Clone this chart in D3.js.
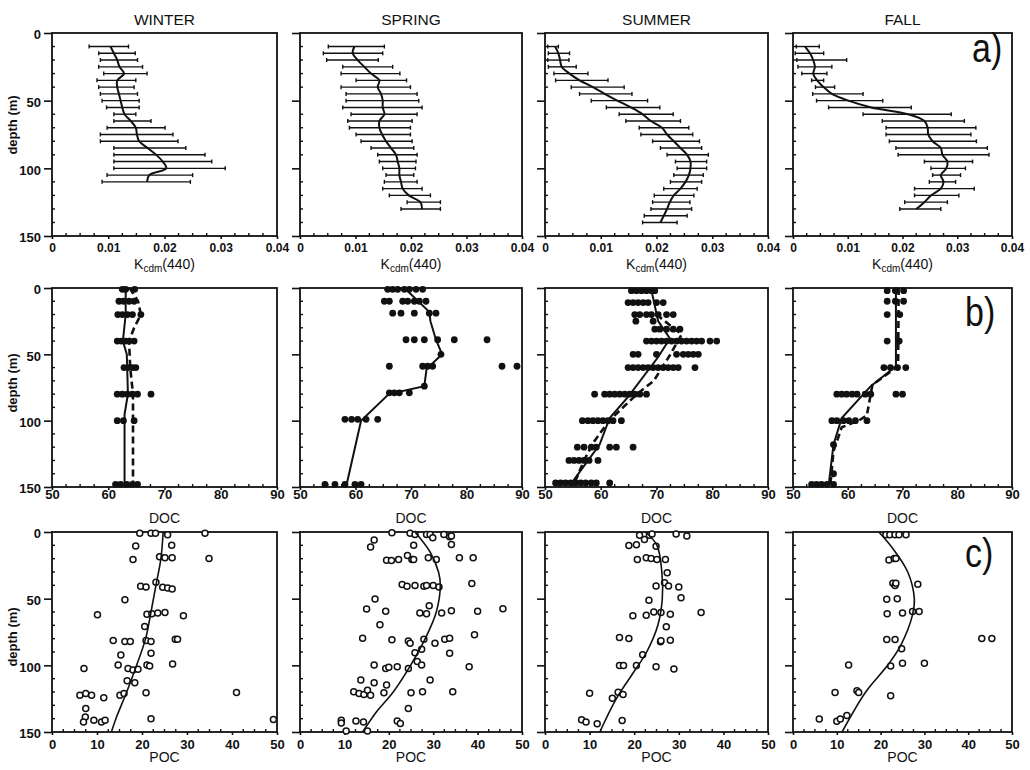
<!DOCTYPE html>
<html><head><meta charset="utf-8">
<script src="https://cdn.jsdelivr.net/npm/d3@7"></script>
<style>
body{margin:0;background:#fff}
svg{display:block}
text{font-family:"Liberation Sans",Arial,Helvetica,sans-serif;fill:#111}
</style>
</head><body>
<svg id="chart" width="1030" height="770"></svg>
<script>
// ---------- labels / ticks ----------
const seasons = ["WINTER","SPRING","SUMMER","FALL"];
const panelLetters = ["a)","b)","c)"];
const depthTicks = [0,50,100,150];
const kTicks = [0,0.01,0.02,0.03,0.04];
const kTickLabels = ["0","0.01","0.02","0.03","0.04"];
const docTicks = [50,60,70,80,90];
const docTickLabels = ["50","60","70","80","90"];
const pocTicks = [0,10,20,30,40,50];
const pocTickLabels = ["0","10","20","30","40","50"];

// ---------- a) Kcdm(440) mean profiles with error bars ----------
const winterKDepth = [10,15,20,25,30,35,40,45,50,55,60,65,70,75,80,85,90,95,100,105,110];
const winterKMean = [.0104,.0110,.0116,.0120,.0128,.0116,.0116,.0119,.0122,.0125,.0129,.0140,.0149,.0151,.0155,.0170,.0185,.0197,.0203,.0173,.0169];
const winterKLo   = [.0066,.0083,.0086,.0083,.0092,.0080,.0083,.0086,.0089,.0097,.0110,.0110,.0098,.0086,.0086,.0110,.0110,.0110,.0110,.0098,.0089];
const winterKHi   = [.0136,.0148,.0152,.0161,.0169,.0149,.0146,.0152,.0155,.0155,.0149,.0176,.0201,.0215,.0224,.0238,.0272,.0284,.0308,.0250,.0246];

const springKDepth = [10,15,20,25,30,35,40,45,50,55,60,65,70,75,80,85,90,95,100,105,110,115,120,125,130];
const springKMean = [.0098,.0095,.0104,.0116,.0128,.0143,.0140,.0146,.0149,.0149,.0152,.0143,.0143,.0148,.0155,.0164,.0173,.0176,.0179,.0179,.0182,.0185,.0196,.0217,.0220];
const springKLo   = [.0051,.0042,.0048,.0077,.0074,.0101,.0074,.0083,.0083,.0077,.0092,.0086,.0089,.0101,.0110,.0128,.0140,.0143,.0149,.0155,.0152,.0149,.0161,.0193,.0182];
const springKHi   = [.0152,.0149,.0141,.0167,.0180,.0192,.0199,.0211,.0214,.0220,.0211,.0202,.0199,.0199,.0202,.0205,.0211,.0209,.0208,.0205,.0211,.0220,.0235,.0253,.0253];

const summerKDepth = [10,15,20,25,30,35,40,45,50,55,60,65,70,75,80,85,90,95,100,105,110,115,120,125,130,135,140];
const summerKMean = [.0018,.0024,.0027,.0030,.0044,.0062,.0086,.0107,.0130,.0154,.0175,.0190,.0210,.0219,.0231,.0243,.0255,.0261,.0261,.0258,.0252,.0243,.0231,.0224,.0219,.0213,.0207];
const summerKLo   = [.0005,.0006,.0005,.0006,.0016,.0019,.0047,.0062,.0083,.0110,.0133,.0145,.0169,.0172,.0193,.0207,.0219,.0234,.0237,.0231,.0225,.0213,.0196,.0193,.0190,.0178,.0175];
const summerKHi   = [.0024,.0044,.0043,.0056,.0077,.0113,.0142,.0156,.0184,.0206,.0230,.0243,.0258,.0265,.0277,.0281,.0293,.0290,.0290,.0284,.0281,.0273,.0267,.0260,.0263,.0255,.0237];

const fallKDepth = [10,15,20,25,30,35,40,45,50,55,60,65,70,75,80,85,90,95,100,105,110,115,120,125,130];
const fallKMean = [.0022,.0031,.0037,.0040,.0037,.0044,.0056,.0071,.0101,.0143,.0210,.0240,.0246,.0247,.0255,.0270,.0273,.0282,.0280,.0270,.0275,.0270,.0252,.0240,.0225];
const fallKLo   = [.0006,.0004,.0007,.0009,.0016,.0034,.0041,.0036,.0043,.0065,.0128,.0163,.0170,.0170,.0176,.0188,.0192,.0240,.0252,.0255,.0249,.0222,.0222,.0204,.0195];
const fallKHi   = [.0048,.0056,.0098,.0071,.0062,.0056,.0076,.0128,.0164,.0216,.0289,.0313,.0334,.0325,.0335,.0355,.0358,.0328,.0315,.0306,.0297,.0331,.0303,.0282,.0270];

// ---------- b) DOC samples (depth rows with values) and profiles ----------
const winterDocDepths = [1,10,20,40,60,80,100,148];
const winterDocValues = [
  [62.5,63.1,64.7],[61.9,62.7,63.7,64.6],[61.7,62.5,63.4,64.3,65.8],[61.6,62.3,63.1,63.7,64.6],
  [62.8,63.5,64.3,64.9],[61.6,62.5,63.4,64.3,65.2,67.6],[61.6,62.7,64.6],[61.3,62.2,63.3,64.3,65.2]];
const winterDocSolidDepth = [0,20,40,50,80,95,150];
const winterDocSolid      = [63.1,63.1,62.6,63.3,63.5,62.9,62.9];
const winterDocDashDepth  = [0,10,20,30,40,60,80,100,150];
const winterDocDash       = [63.8,65.3,65.8,64.6,63.7,63.9,64.4,64.4,64.4];

const springDocDepths = [1,10,19,39,50,59,74,79,99,148];
const springDocValues = [
  [65.8,66.7,67.6,68.8,69.7,70.9,72.1],[65.2,66.1,68.5,69.4,70.6,71.5,72.7],[66.7,68.2,70.6,73.3,74.5],
  [69.1,70.6,72.4,74.8,77.8,83.7],[75.4],[66.1,72.1,73.0,73.9,86.4,89.1],[72.4],
  [66.1,67.0,67.9,69.7],[58.1,59.3,60.4,61.9,64.0],[54.5,56.3,58.1,59.9,61.0]];
const springDocSolidDepth = [0,18,25,39,50,61,74,80,100,150];
const springDocSolid      = [68.8,73.3,73.5,74.5,75.6,72.8,72.4,66.0,61.0,58.3];

const summerDocDepths = [2,11,20,25,31,40,50,60,80,100,120,130,147];
const summerDocValues = [
  [65.5,66.4,67.3,68.2,69.1,69.7],[64.9,65.8,66.7,67.6,68.5,70.0,71.2],[66.1,67.0,68.2,69.1,70.3,71.8,73.0],
  [66.3,69.4],[69.7,70.6,71.8,73.0,74.2],
  [68.2,69.1,70.0,70.9,71.8,72.7,73.6,74.5,75.4,76.3,77.2,78.1,79.6,80.8],
  [65.8,66.7,70.0,73.6,74.8,75.7,76.6,77.5],
  [64.9,65.8,66.7,67.6,68.5,69.4,70.3,71.2,72.1,73.0,73.9,76.9],
  [58.9,60.7,61.6,62.5,63.4,64.3,65.2,66.1,67.0,68.2],
  [56.7,57.7,58.6,59.5,60.4,61.3,62.2,63.7],
  [55.8,57.0,58.3,59.2,61.6,62.8,65.8],
  [54.3,55.2,56.1,57.0,57.9,59.5],
  [51.9,52.8,53.7,54.6,55.5,56.4,57.3,58.3,59.2,61.6]];
const summerDocSolidDepth = [2,25,38,52,82,98,118,148];
const summerDocSolid      = [69.1,70.3,72.4,70.3,64.9,61.6,59.8,54.6];
const summerDocDashDepth  = [20,35,50,60,70,80,100,117,130,148];
const summerDocDash       = [70.0,74.5,72.5,71.0,69.5,66.5,61.5,58.6,57.0,55.2];

const fallDocDepths = [2,10,20,40,60,80,100,118,140,148];
const fallDocValues = [
  [67.2,68.7,70.2],[67.2,68.7,70.2],[67.2,69.5],[67.2,69.4],[66.6,67.8,69.1,70.6],
  [58.0,58.9,59.8,60.8,61.7,63.2,64.2,68.8,70.0],[57.1,58.0,59.2,60.2,61.4,63.5],[57.4],[57.4],
  [53.4,54.3,55.2,56.2,57.4]];
const fallDocSolidDepth = [0,59,74,98,118,149];
const fallDocSolid      = [68.8,68.8,64.2,58.9,57.4,56.5];
const fallDocDashDepth  = [0,59,73,96,100,105,123,149];
const fallDocDash       = [69.3,69.2,64.5,63.5,62.0,58.9,57.4,56.8];

// ---------- c) POC samples [depth, POC] and fitted profiles ----------
const winterPoc = [[1,19.5],[1,22.0],[1,23.0],[2,25.7],[1,34.0],[10.5,18.6],[10,26.6],[20.6,18.0],[18.6,23.9],[19.3,25.1],
  [19.3,26.7],[19.8,34.9],[40.7,19.7],[41.2,20.9],[37.7,23.1],[41.5,24.6],[42,25.7],[42.7,26.7],[50.8,16.2],[62,10.1],
  [61.6,21.1],[61.3,22.2],[60.8,23.5],[60.3,25.1],[62.8,29.2],[70.9,20.6],[81.4,13.6],[82.2,16.2],[82.2,17.4],[81.4,20.9],
  [82.2,22.0],[80.4,27.4],[80.4,27.9],[92.2,15.3],[91,22.0],[102.3,7.1],[99.7,14.7],[102.3,16.9],[103.5,18.0],[103,19.1],
  [99.7,21.1],[100.5,21.7],[99,26.8],[111.6,16.7],[113,18.4],[120.6,20.9],[122.4,6.2],[121.1,7.5],[122.4,8.8],[124.4,11.5],
  [122.4,15.1],[121.1,16.0],[120.4,41.0],[132.4,7.5],[138.7,7.4],[142.5,7.0],[141.2,9.3],[142.5,11.0],[141.2,11.8],[140,22.0],[140.7,49.2]];
const winterPocCurveDepth = [0,20,40,60,80,100,120,140,150];
const winterPocCurve      = [24.7,24.2,23.1,22.0,20.8,18.8,16.6,14.2,13.2];

const springPoc = [[0.5,20.7],[1,24.8],[1.8,25.9],[1.8,28.5],[1.8,29.3],[4.3,29.9],[1.8,32.4],[3.5,33.7],[3,34.1],[6,16.7],
  [11.3,15.9],[10,25.6],[9.3,34.1],[21.1,19.5],[21.4,20.6],[20.6,22.2],[17.6,24.2],[20.6,25.2],[20.6,25.6],[19.3,28.9],
  [20.6,30.7],[19.3,35.9],[19.3,39.0],[39.4,23.0],[40.7,24.1],[40.2,25.9],[40.7,27.9],[40.2,28.5],[40.2,30.0],[41.2,31.3],
  [38.7,38.7],[50.3,16.9],[57.8,15.0],[59.5,19.3],[60.8,27.0],[61.3,28.5],[55.3,29.1],[60.8,31.9],[59,34.1],[59.5,40.0],
  [57.5,45.7],[69.6,18.0],[79.6,14.1],[80.9,20.7],[81.7,24.4],[83.4,24.8],[80.4,27.9],[83.4,30.4],[80.4,32.6],[79.6,33.7],
  [77.1,39.3],[90.5,25.9],[88,27.4],[91,33.7],[99.7,16.7],[102.3,19.3],[101.5,20.0],[101,21.9],[102.3,24.4],[97.2,26.4],
  [99.7,27.4],[101,38.1],[111,13.7],[113,16.7],[111,29.3],[119.8,12.1],[121.1,13.3],[121.8,14.4],[118.6,15.2],[122.4,15.9],
  [120.6,18.9],[114.8,19.5],[120.6,25.0],[119.8,27.6],[119.8,34.4],[132.4,24.4],[141.2,9.3],[143.2,9.3],[141.7,12.6],[142.5,14.3],
  [141.7,21.9],[143.7,22.6],[149.2,10.4],[149.2,15.2]];
const springPocCurveDepth = [0,15,30,40,60,80,100,120,135,150];
const springPocCurve      = [25.9,29.3,31.2,31.6,30.7,28.2,24.9,21.0,17.2,14.1];

const summerPoc = [[2.5,21.2],[5.7,22.3],[2.5,23.4],[1.5,24.0],[1.5,29.4],[3,31.8],[10.2,18.8],[9.5,20.5],[10.7,24.9],[20.6,20.7],
  [19.4,22.7],[19.9,23.8],[20.6,25.1],[20.6,27.0],[30.6,27.4],[40.5,24.9],[38.1,26.8],[40.5,27.7],[41.3,30.0],[49.3,30.5],
  [51.2,23.3],[62.9,19.7],[62.4,22.7],[60,24.4],[60.4,26.0],[61.7,28.1],[60.4,35.0],[71.1,27.2],[79.1,16.7],[79.9,18.8],
  [82.3,25.9],[81.6,26.0],[81.1,28.1],[92,21.9],[100.2,16.7],[100.2,17.6],[100.2,20.5],[101,24.9],[102.7,28.9],[120.9,10.0],
  [124.6,15.1],[120.1,16.4],[121.9,17.5],[140.8,8.2],[142.5,9.2],[143.8,11.7],[141.3,17.3]];
const summerPocCurveDepth = [0,10,30,50,70,90,105,125,150];
const summerPocCurve      = [22.5,25.1,26.2,26.3,25.3,22.8,19.9,16.0,12.3];

const fallPoc = [[2,21.2],[2,22.1],[2,23.3],[2,24.2],[2,25.8],[21,21.9],[19.9,23.1],[19.9,23.5],[38.5,22.8],[40.2,23.3],
  [38.5,23.5],[39.2,28.5],[50.4,21.4],[50.1,23.8],[61.3,21.5],[60.8,25.0],[59.6,27.3],[59.6,28.8],[80.6,21.4],[80.6,23.3],
  [87.6,24.8],[79.9,43.1],[79.9,45.4],[99.8,12.7],[100.5,22.3],[98.5,25.0],[98.5,30.0],[120.3,9.6],[119.1,14.6],[120.3,15.0],
  [122.8,22.3],[140.2,6.0],[141.9,10.0],[140.2,10.8],[137.7,12.3]];
const fallPocCurveDepth = [0,12,30,50,62,85,100,120,150];
const fallPocCurve      = [19.6,22.7,26.2,27.7,27.3,24.6,21.6,16.6,11.2];

// ---------- assemble ----------
const zipK = (dep, m, lo, hi) => dep.map((d,i)=>({d, v:m[i], lo:lo[i], hi:hi[i]}));
const zipL = (dep, v) => dep.map((d,i)=>({d, v:v[i]}));
const rowsPts = (deps, vals) => deps.flatMap((d,i)=>vals[i].map(v=>({d, v})));
const pairs = p => p.map(([d,v])=>({d, v}));

const kSets = [
  zipK(winterKDepth, winterKMean, winterKLo, winterKHi),
  zipK(springKDepth, springKMean, springKLo, springKHi),
  zipK(summerKDepth, summerKMean, summerKLo, summerKHi),
  zipK(fallKDepth, fallKMean, fallKLo, fallKHi)];
const docSets = [
  {pts: rowsPts(winterDocDepths, winterDocValues), solid: zipL(winterDocSolidDepth, winterDocSolid), dash: zipL(winterDocDashDepth, winterDocDash)},
  {pts: rowsPts(springDocDepths, springDocValues), solid: zipL(springDocSolidDepth, springDocSolid), dash: null},
  {pts: rowsPts(summerDocDepths, summerDocValues), solid: zipL(summerDocSolidDepth, summerDocSolid), dash: zipL(summerDocDashDepth, summerDocDash)},
  {pts: rowsPts(fallDocDepths, fallDocValues), solid: zipL(fallDocSolidDepth, fallDocSolid), dash: zipL(fallDocDashDepth, fallDocDash)}];
const pocSets = [
  {pts: pairs(winterPoc), curve: zipL(winterPocCurveDepth, winterPocCurve)},
  {pts: pairs(springPoc), curve: zipL(springPocCurveDepth, springPocCurve)},
  {pts: pairs(summerPoc), curve: zipL(summerPocCurveDepth, summerPocCurve)},
  {pts: pairs(fallPoc), curve: zipL(fallPocCurveDepth, fallPocCurve)}];

// ---------- layout ----------
const svg = d3.select("#chart");
const INK = "#111";
const colX = [[52,277],[300,522],[545,768],[793,1012]];
const rowY = [[33,236],[288,487],[532,732]];
const xDomains = [[0,0.04],[50,90],[0,50]];
const tickVals = [kTicks, docTicks, pocTicks];
const tickLabs = [kTickLabels, docTickLabels, pocTickLabels];
const tickPad = [4, 0, 5];
const titleBase = [269, 523, 762];
const depthLabelY = [125, 383, 637];
const letterPos = [[972,62],[965,326],[965,567]];

function makePanel(r, c) {
  const [x0,x1] = colX[c], [y0,y1] = rowY[r];
  const x = d3.scaleLinear().domain(xDomains[r]).range([x0,x1]);
  const y = d3.scaleLinear().domain([0,150]).range([y0,y1]);
  const g = svg.append("g");
  // minor ticks (inward)
  const minorY = d3.range(10,150,10).filter(d=>d%50!==0);
  g.selectAll(null).data(minorY).join("line")
    .attr("x1",x0).attr("x2",x0+3).attr("y1",d=>y(d)).attr("y2",d=>y(d))
    .attr("stroke",INK).attr("stroke-width",1.4);
  const n = (tickVals[r].length-1)*4;
  const stepX = (xDomains[r][1]-xDomains[r][0])/n;
  const minorX = d3.range(1,n).filter(i=>i%4!==0).map(i=>xDomains[r][0]+i*stepX);
  g.selectAll(null).data(minorX).join("line")
    .attr("x1",d=>x(d)).attr("x2",d=>x(d)).attr("y1",y1).attr("y2",y1-3)
    .attr("stroke",INK).attr("stroke-width",1.4);
  // y axis
  const ya = d3.axisLeft(y).tickValues(depthTicks).tickSize(8).tickPadding(3)
    .tickFormat(c===0 ? d3.format("d") : ()=>"");
  const yg = g.append("g").attr("transform",`translate(${x0},0)`).call(ya);
  yg.select(".domain").remove();
  yg.selectAll("line").attr("stroke",INK).attr("stroke-width",1.6);
  yg.attr("font-family",null).attr("font-size",13).attr("font-weight","bold");
  yg.selectAll("text").attr("dy","0.45em").attr("fill",INK);
  // x axis
  const xa = d3.axisBottom(x).tickValues(tickVals[r]).tickSize(3).tickPadding(tickPad[r])
    .tickFormat((d,i)=>tickLabs[r][i]);
  const xg = g.append("g").attr("transform",`translate(0,${y1})`).call(xa);
  xg.select(".domain").remove();
  xg.selectAll("line").attr("stroke",INK).attr("stroke-width",1.6);
  xg.attr("font-family",null).attr("font-size",r===0 ? 12 : 13).attr("font-weight","bold");
  xg.selectAll("text").attr("fill",INK);
  // frame
  g.append("rect").attr("x",x0).attr("y",y0).attr("width",x1-x0).attr("height",y1-y0)
    .attr("fill","none").attr("stroke",INK).attr("stroke-width",1.8);
  // axis title
  const cx = (x0+x1)/2;
  if (r===0) {
    const t = svg.append("text").attr("x",cx).attr("y",titleBase[r]).attr("text-anchor","middle").attr("font-size",14);
    t.append("tspan").text("K");
    t.append("tspan").attr("font-size",10).attr("dy",3).text("cdm");
    t.append("tspan").attr("dy",-3).text("(440)");
  } else {
    svg.append("text").attr("x",cx).attr("y",titleBase[r]).attr("text-anchor","middle").attr("font-size",14)
      .text(r===1 ? "DOC" : "POC");
  }
  if (c===0) {
    svg.append("text").attr("transform",`translate(17,${depthLabelY[r]}) rotate(-90)`)
      .attr("text-anchor","middle").attr("font-size",13).attr("font-weight","bold").text("depth (m)");
  }
  return {g, x, y};
}

// season titles
seasons.forEach((s,c)=>{
  svg.append("text").attr("x",(colX[c][0]+colX[c][1])/2).attr("y",25)
    .attr("text-anchor","middle").attr("font-size",15.5).text(s);
});

// row a
kSets.forEach((data,c)=>{
  const {g,x,y} = makePanel(0,c);
  const eb = g.append("g").attr("stroke",INK).attr("stroke-width",1.4);
  eb.selectAll(null).data(data).join("line")
    .attr("x1",d=>x(d.lo)).attr("x2",d=>x(d.hi)).attr("y1",d=>y(d.d)).attr("y2",d=>y(d.d));
  eb.selectAll(null).data(data.flatMap(d=>[{d:d.d,v:d.lo},{d:d.d,v:d.hi}])).join("line")
    .attr("x1",d=>x(d.v)).attr("x2",d=>x(d.v)).attr("y1",d=>y(d.d)-2).attr("y2",d=>y(d.d)+2);
  g.append("path").datum(data)
    .attr("d", d3.line().x(d=>x(d.v)).y(d=>y(d.d)).curve(d3.curveCatmullRom.alpha(0.5)))
    .attr("fill","none").attr("stroke",INK).attr("stroke-width",2);
});

// row b
docSets.forEach((set,c)=>{
  const {g,x,y} = makePanel(1,c);
  const line = d3.line().x(d=>x(d.v)).y(d=>y(d.d));
  g.selectAll(null).data(set.pts).join("circle")
    .attr("cx",d=>x(d.v)).attr("cy",d=>y(d.d)).attr("r",3.4).attr("fill",INK);
  g.append("path").datum(set.solid).attr("d",line)
    .attr("fill","none").attr("stroke",INK).attr("stroke-width",2);
  if (set.dash) g.append("path").datum(set.dash).attr("d",line)
    .attr("fill","none").attr("stroke",INK).attr("stroke-width",2.6).attr("stroke-dasharray","7,4");
});

// row c
pocSets.forEach((set,c)=>{
  const {g,x,y} = makePanel(2,c);
  g.selectAll(null).data(set.pts).join("circle")
    .attr("cx",d=>x(d.v)).attr("cy",d=>y(d.d)).attr("r",3).attr("fill","#fff")
    .attr("stroke",INK).attr("stroke-width",1.5);
  g.append("path").datum(set.curve)
    .attr("d", d3.line().x(d=>x(d.v)).y(d=>y(d.d)).curve(d3.curveCatmullRom.alpha(0.5)))
    .attr("fill","none").attr("stroke",INK).attr("stroke-width",1.6);
});

// panel letters
panelLetters.forEach((L,r)=>{
  svg.append("text").attr("transform",`translate(${letterPos[r][0]},${letterPos[r][1]}) scale(0.85,1)`)
    .attr("font-size",40).text(L);
});
</script>
</body></html>
